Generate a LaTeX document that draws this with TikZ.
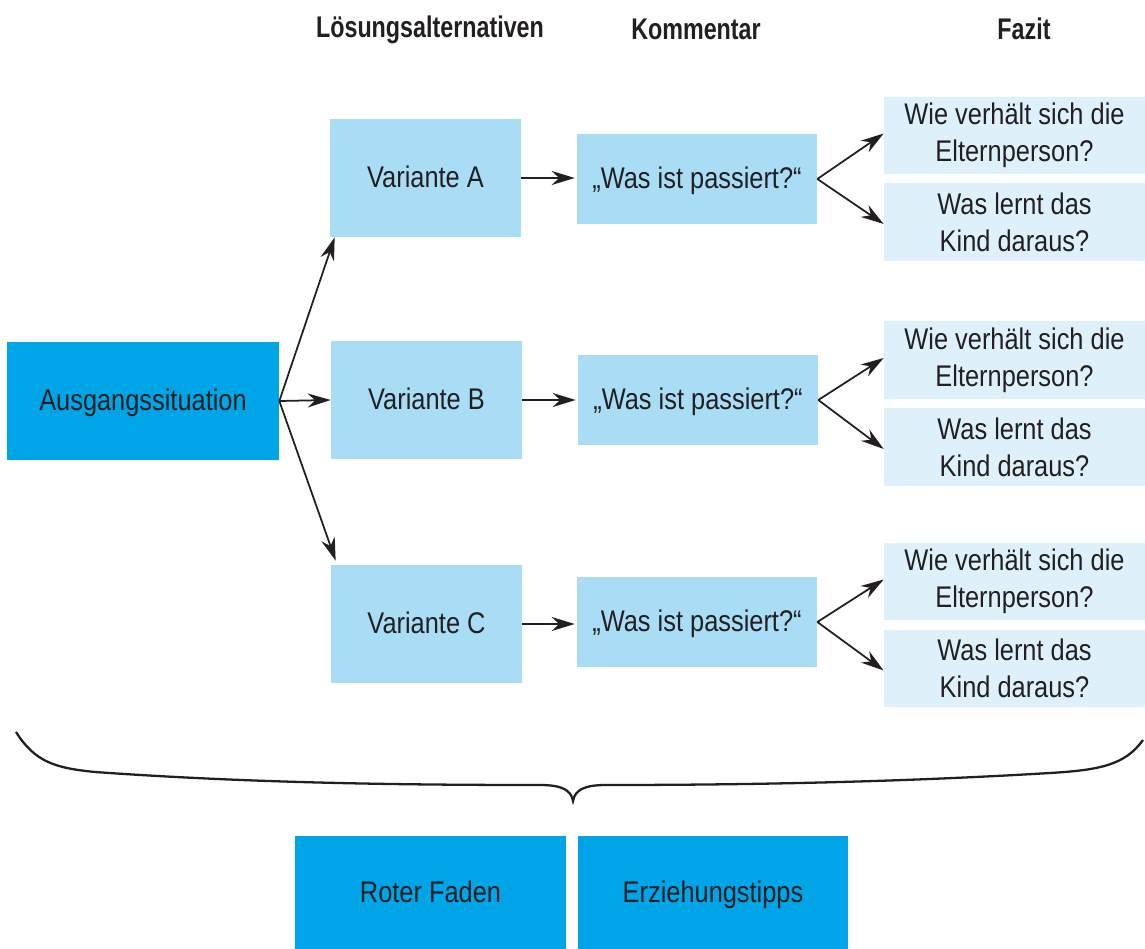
\documentclass[tikz,border=0pt]{standalone}
\usepackage{fontspec}
\setmainfont{Liberation Sans}[FakeStretch=0.85]
\newfontfamily\headfont{Liberation Sans}[FakeStretch=0.78]
\usetikzlibrary{arrows.meta}
\definecolor{darkblue}{RGB}{0,165,232}
\definecolor{midblue}{RGB}{169,221,246}
\definecolor{lightblue}{RGB}{222,241,251}
\definecolor{inkgray}{RGB}{35,31,32}
\tikzset{
	box/.style={inner sep=0pt, align=center, text=inkgray, text height=13pt, text depth=2pt, font=\fontsize{17}{21}\selectfont},
	darkbox/.style={box, fill=darkblue},
	midbox/.style={box, fill=midblue},
	lightbox/.style={box, text height=, text depth=, fill=lightblue, minimum width=5.22cm, minimum height=1.55cm},
	headtext/.style={text=inkgray, text height=13pt, text depth=2pt, font=\headfont\bfseries\fontsize{17}{21}\selectfont},
	arr/.style={line width=1pt, draw=inkgray, -{Stealth[length=4.6mm, width=2.8mm, inset=1.5mm]}}
}

\begin{document}
\begin{tikzpicture}[x=0.02cm, y=-0.02cm]
			%%%%% START %%%%%
			
			\useasboundingbox (0, 0) rectangle (1145, 949);
			
			\node[headtext] (hloes) at (430, 28) {Lösungsalternativen};
			\node[headtext] (hkomm) at (696, 30) {Kommentar};
			\node[headtext] (hfaz) at (1024, 30) {Fazit};
			
			\node[darkbox, minimum width=5.44cm, minimum height=2.36cm] (aus) at (143, 401) {Ausgangssituation};
			
			\node[midbox, minimum width=3.82cm, minimum height=2.36cm] (varA) at (425.5, 178) {Variante A};
			\node[midbox, minimum width=3.82cm, minimum height=2.36cm] (varB) at (426.5, 400) {Variante B};
			\node[midbox, minimum width=3.82cm, minimum height=2.36cm] (varC) at (426.5, 624) {Variante C};
			
			\node[midbox, minimum width=4.8cm, minimum height=1.8cm] (kommA) at (697, 179) {„Was ist passiert?“};
			\node[midbox, minimum width=4.8cm, minimum height=1.8cm] (kommB) at (698, 400) {„Was ist passiert?“};
			\node[midbox, minimum width=4.8cm, minimum height=1.8cm] (kommC) at (697, 622) {„Was ist passiert?“};
			
			\node[lightbox] (fazA1) at (1014.5, 135.5) {Wie verhält sich die\\Elternperson?};
			\node[lightbox] (fazA2) at (1014.5, 222) {Was lernt das\\Kind daraus?};
			\node[lightbox] (fazB1) at (1014.5, 360) {Wie verhält sich die\\Elternperson?};
			\node[lightbox] (fazB2) at (1014.5, 447) {Was lernt das\\Kind daraus?};
			\node[lightbox] (fazC1) at (1014.5, 581.5) {Wie verhält sich die\\Elternperson?};
			\node[lightbox] (fazC2) at (1014.5, 668.5) {Was lernt das\\Kind daraus?};
			
			\node[darkbox, minimum width=5.42cm, minimum height=2.26cm] (faden) at (430.5, 892.5) {Roter Faden};
			\node[darkbox, minimum width=5.4cm, minimum height=2.26cm] (tipps) at (713, 892.5) {Erziehungstipps};
			
			\draw[arr] (aus.east) -- ([xshift=0.1cm]varA.south west);
			\draw[arr] (aus.east) -- (varB.west);
			\draw[arr] (aus.east) -- ([xshift=0.1cm, yshift=0.08cm]varC.north west);
			
			\draw[arr] (varA.east) -- ([xshift=-0.04cm]kommA.west |- varA.east);
			\draw[arr] (varB.east) -- ([xshift=-0.04cm]kommB.west);
			\draw[arr] (varC.east) -- ([xshift=-0.04cm]kommC.west |- varC.east);
			
			\draw[arr] (kommA.east) -- ([yshift=0.04cm]fazA1.west);
			\draw[arr] (kommA.east) -- ([yshift=-0.04cm]fazA2.west);
			\draw[arr] (kommB.east) -- ([yshift=0.04cm]fazB1.west);
			\draw[arr] (kommB.east) -- ([yshift=-0.04cm]fazB2.west);
			\draw[arr] (kommC.east) -- ([yshift=0.04cm]fazC1.west);
			\draw[arr] (kommC.east) -- ([yshift=-0.04cm]fazC2.west);
			
			% brace
			\coordinate (bl) at (16, 732);
			\coordinate (bm) at (573, 801);
			\coordinate (br) at (1143, 740);
			\draw[line width=1.3pt, draw=inkgray] (bl) .. controls (35, 762) and (55, 768) .. (95, 772)
				.. controls (250, 783) and (400, 785) .. (540, 785)
				.. controls (562, 785) and (571, 790) .. (bm)
				.. controls (575, 790) and (584, 785) .. (606, 785)
				.. controls (750, 785) and (900, 782) .. (1050, 773)
				.. controls (1100, 770) and (1125, 765) .. (br);
			
			%%%%% END %%%%%
\end{tikzpicture}
\end{document}
